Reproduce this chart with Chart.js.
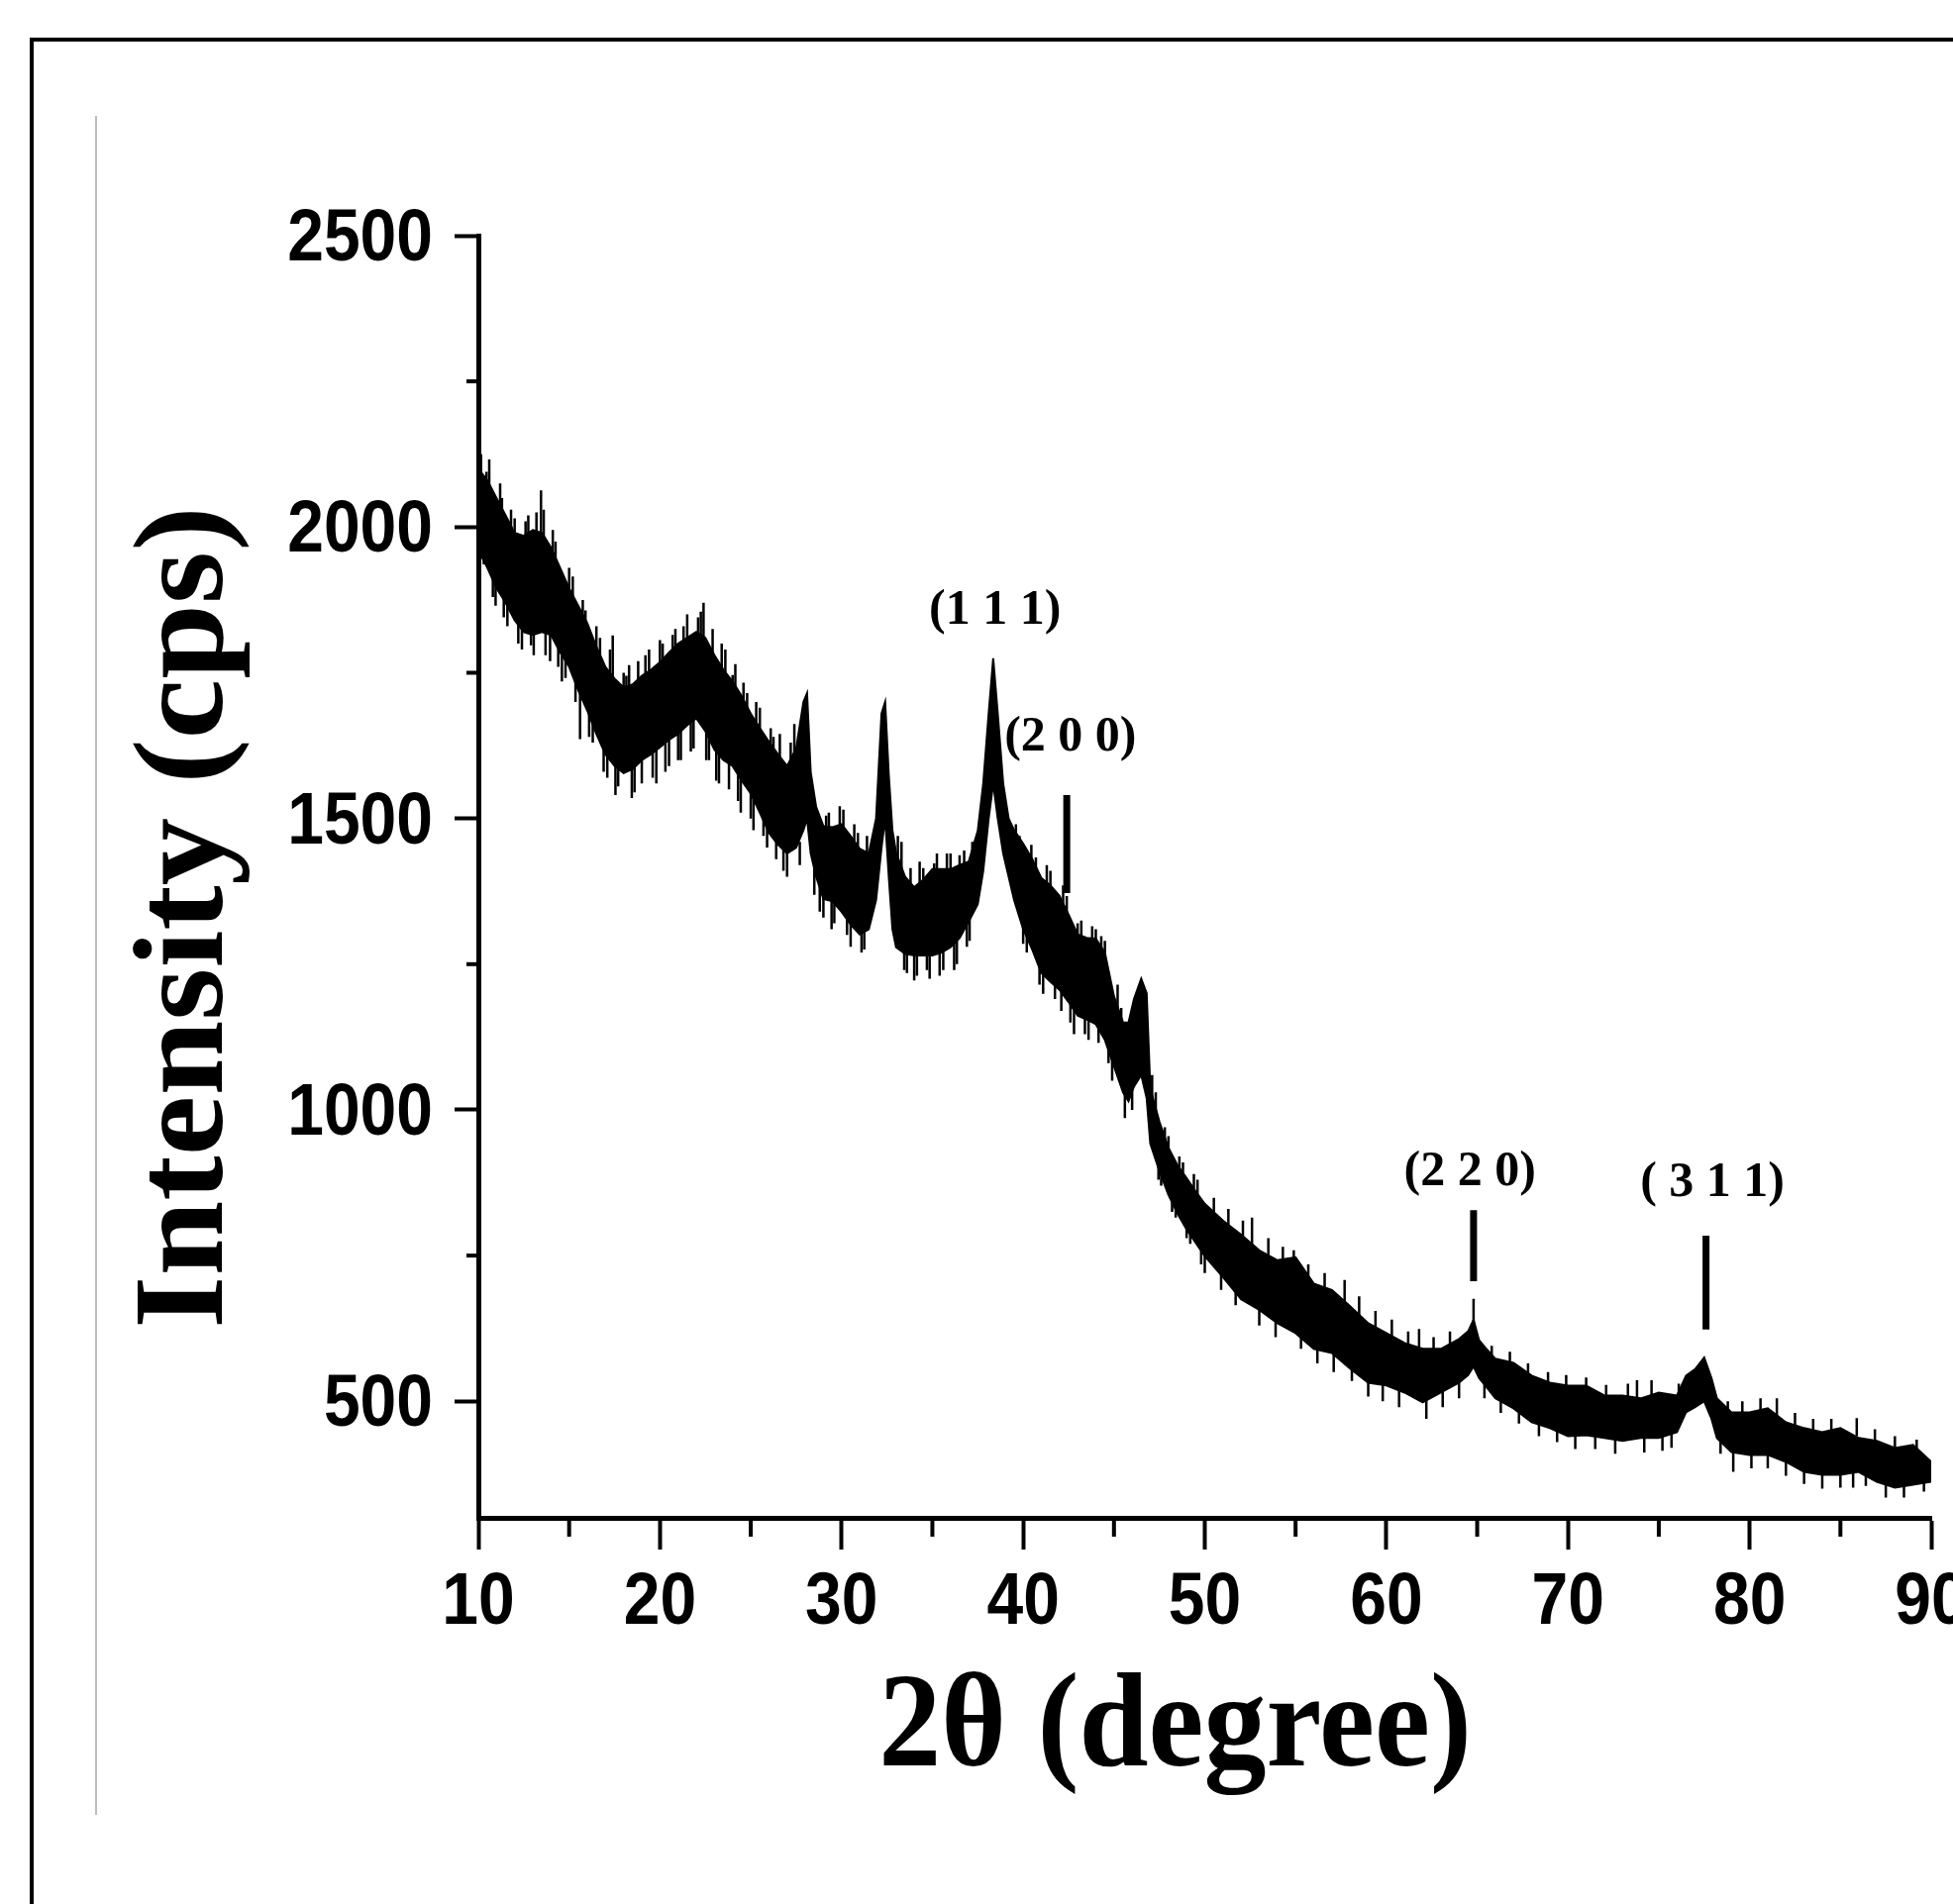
<!DOCTYPE html>
<html lang="en">
<head>
    <meta charset="UTF-8">
    <title>XRD pattern</title>
    <script src="https://cdn.jsdelivr.net/npm/chart.js"></script>
    <style>
        html, body { margin: 0; padding: 0; background: #fff; }
        body { width: 1972px; height: 1923px; position: relative; overflow: hidden; }
        #frame { position: absolute; left: 30px; top: 38px; width: 2100px; height: 2100px; border: 4px solid #000; }
        #rule { position: absolute; left: 96px; top: 117px; width: 2px; height: 1716px; background: #bdbdbd; }
        #xrd { position: absolute; left: 0; top: 0; }
    </style>
</head>
<body>
    <div id="frame"></div>
    <div id="rule"></div>
    <canvas id="xrd" width="1972" height="1923"></canvas>

    <script>
        // 2theta positions (degrees) and the top / bottom edge of the noisy trace (cps)
        const twoTheta = [
            10, 10.5, 11, 11.5, 12, 12.5, 13, 13.5, 14, 14.5, 15, 15.5, 16, 16.5, 17, 17.5,
            18, 18.5, 19, 19.5, 20, 20.5, 21, 21.5, 22, 22.5, 23, 23.5, 24, 24.5, 25, 25.5,
            26, 26.5, 27, 27.5, 27.9, 28.1, 28.3, 28.6, 29, 29.5, 30, 30.5, 31, 31.5,
            31.9, 32.2, 32.4, 32.6, 32.8, 33, 33.5, 34, 34.5, 35, 35.5, 36, 36.5, 37, 37.5,
            37.8, 38.1, 38.35, 38.6, 38.9, 39.2, 39.5, 40, 40.5, 41, 41.5, 42, 42.5, 43, 43.5,
            44, 44.5, 45, 45.5, 45.8, 46.1, 46.5, 46.8, 47, 47.5, 48, 48.5, 49, 49.5, 50,
            51, 52, 53, 54, 55, 56, 57, 58, 59, 60, 61, 62, 63, 64, 64.5, 64.8, 65.1, 65.5,
            66, 67, 68, 69, 70, 71, 72, 73, 74, 75, 76, 76.5, 77, 77.5, 77.9, 78.2,
            79, 80, 81, 82, 83, 84, 85, 86, 87, 88, 89, 90
        ];
        const upperEnv = [
            2100, 2080, 2050, 2020, 1990, 1985, 1995, 1990, 1965, 1930, 1895, 1865, 1835, 1795, 1760, 1740,
            1725, 1730, 1745, 1755, 1768, 1785, 1800, 1810, 1820, 1810, 1780, 1755, 1735, 1710, 1680, 1655,
            1632, 1610, 1590, 1620, 1700, 1715, 1580, 1520, 1487, 1485, 1490, 1470, 1448, 1440,
            1500, 1680, 1700, 1575, 1480, 1442, 1400, 1382, 1395, 1413, 1413, 1413, 1420, 1426, 1479,
            1560, 1680, 1775, 1680, 1560, 1500, 1480, 1457, 1430, 1398, 1385, 1367, 1335, 1301, 1295,
            1294, 1270, 1195, 1150, 1150, 1190, 1225, 1200, 1037, 980, 935, 905, 883, 860, 839,
            810, 786, 759, 742, 747, 702, 691, 663, 634, 617, 600, 590, 590, 607, 620, 640, 605, 590,
            573, 566, 544, 532, 527, 527, 510, 510, 505, 515, 510, 544, 555, 575, 540, 505,
            481, 481, 488, 464, 454, 447, 454, 437, 432, 420, 425, 396
        ];
        const lowerEnv = [
            1960, 1930, 1895, 1870, 1840, 1820, 1815, 1820, 1815, 1785, 1760, 1720, 1685, 1645, 1610, 1590,
            1578, 1585, 1600, 1610, 1622, 1635, 1645, 1660, 1672, 1650, 1618, 1600, 1590, 1565, 1543, 1510,
            1475, 1455, 1440, 1450, 1480, 1500, 1440, 1400, 1362, 1358, 1340, 1318, 1301, 1310,
            1360, 1450, 1500, 1400, 1310, 1279, 1268, 1265, 1265, 1265, 1270, 1279, 1295, 1323, 1353,
            1410, 1500, 1560, 1500, 1440, 1400, 1360, 1310, 1275, 1235, 1220, 1206, 1185, 1162, 1155,
            1147, 1120, 1075, 1030, 1015, 1040, 1060, 1020, 942, 895, 854, 822, 795, 772, 749,
            713, 675, 657, 634, 617, 590, 583, 556, 532, 527, 515, 498, 515, 532, 545, 560, 540, 525,
            505, 488, 464, 454, 440, 442, 437, 432, 437, 437, 447, 481, 490, 500, 470, 437,
            413, 408, 408, 396, 379, 374, 374, 379, 362, 352, 357, 362
        ];

        // single noise spikes sticking out of the band (position, bottom, top)
        const spikeX = [
            10.15, 10.3, 10.6, 10.8, 11.2, 11.4, 11.8, 12.2, 12.6, 12.9,
            13.2, 13.45, 13.7, 14.1, 14.4, 14.8, 15.2, 15.6, 15.9, 16.3,
            16.7, 17.1, 17.4, 17.7, 18.0, 18.3, 18.6, 19.0, 19.2, 19.6,
            20.0, 20.3, 20.7, 21.0, 21.3, 21.7, 22.1, 22.4, 22.7, 23.1,
            23.4, 23.8, 24.0, 24.3, 24.6, 25.0, 25.3, 25.7, 26.1, 26.4,
            26.6, 27.0, 27.4, 27.7, 28.5, 29.0, 29.3, 29.6, 29.9, 30.3,
            30.7, 31.1, 31.4, 33.3, 33.6, 34.0, 34.3, 34.7, 35.1, 35.4,
            35.8, 36.2, 36.5, 36.9, 37.2, 39.8, 40.2, 40.7, 41.1, 41.5,
            42.1, 42.4, 42.8, 43.2, 43.6, 44.0, 44.3, 44.7, 45.2, 45.6,
            46.0, 47.3, 47.6, 48.0, 48.4, 48.8, 49.2, 49.6, 50.0, 50.5,
            50.9, 51.3, 51.7, 52.1, 52.6, 53.0, 53.5, 53.9, 54.3, 54.9,
            55.3, 55.7, 56.2, 56.6, 57.1, 57.7, 58.1, 58.5, 59.0, 59.4,
            59.8, 60.3, 60.7, 61.2, 61.8, 62.2, 62.6, 63.1, 63.5, 64.0,
            64.8, 65.4, 65.8, 66.3, 66.8, 67.3, 67.8, 68.4, 68.9, 69.4,
            69.9, 70.4, 71.0, 71.5, 72.1, 72.6, 73.3, 73.8, 74.2, 74.6,
            75.2, 75.7, 76.1, 78.4, 78.8, 79.1, 79.6, 80.1, 80.6, 81.0,
            81.5, 82.0, 82.5, 83.0, 83.5, 84.0, 84.5, 85.0, 85.7, 85.9,
            86.4, 86.9, 87.5, 88.0, 88.5, 89.2, 89.6
        ];
        const spikeLow = [
            2060, 1936, 2030, 1880, 2010, 1845, 1975, 1800, 1960, 1797,
            1965, 1985, 1780, 1940, 1760, 1741, 1860, 1636, 1800, 1630,
            1760, 1570, 1730, 1555, 1700, 1700, 1545, 1560, 1720, 1570,
            1740, 1580, 1760, 1600, 1780, 1615, 1790, 1780, 1600, 1565,
            1750, 1550, 1700, 1530, 1680, 1500, 1650, 1470, 1600, 1430,
            1580, 1400, 1580, 1420, 1369, 1330, 1460, 1320, 1460, 1300,
            1440, 1270, 1420, 1410, 1235, 1222, 1360, 1240, 1380, 1230,
            1390, 1240, 1390, 1280, 1410, 1420, 1270, 1390, 1199, 1360,
            1170, 1320, 1130, 1280, 1120, 1270, 1260, 1080, 1170, 986,
            1000, 990, 870, 910, 815, 870, 770, 840, 720, 800,
            691, 790, 665, 770, 760, 630, 740, 610, 730, 720,
            590, 700, 565, 680, 550, 660, 535, 640, 508, 620,
            500, 600, 490, 585, 580, 470, 575, 490, 585, 505,
            600, 505, 560, 480, 550, 462, 530, 440, 515, 430,
            510, 418, 500, 418, 495, 410, 490, 490, 412, 490,
            415, 420, 495, 410, 470, 379, 465, 385, 470, 385,
            470, 372, 450, 358, 440, 350, 440, 352, 352, 440,
            355, 420, 335, 410, 335, 400, 345
        ];
        const spikeHigh = [
            2125, 2000, 2116, 1930, 2075, 1900, 2030, 1860, 2010, 1850,
            2025, 2063, 1840, 1995, 1810, 1800, 1915, 1720, 1857, 1680,
            1810, 1620, 1814, 1610, 1750, 1763, 1600, 1610, 1780, 1620,
            1806, 1630, 1815, 1650, 1830, 1665, 1845, 1870, 1660, 1620,
            1800, 1600, 1746, 1580, 1733, 1550, 1700, 1520, 1655, 1480,
            1645, 1450, 1662, 1460, 1420, 1380, 1510, 1370, 1521, 1345,
            1490, 1310, 1470, 1460, 1280, 1280, 1426, 1280, 1423, 1275,
            1440, 1290, 1437, 1330, 1460, 1470, 1310, 1433, 1240, 1410,
            1220, 1367, 1175, 1325, 1160, 1310, 1298, 1130, 1215, 1030,
            1045, 1030, 910, 955, 850, 910, 810, 880, 760, 849,
            740, 830, 700, 810, 815, 670, 780, 650, 765, 759,
            630, 735, 600, 720, 595, 708, 570, 680, 545, 655,
            540, 640, 530, 620, 624, 510, 610, 525, 620, 540,
            676, 545, 595, 515, 585, 495, 565, 475, 550, 465,
            545, 450, 541, 450, 528, 442, 530, 536, 445, 536,
            448, 450, 530, 445, 500, 420, 500, 415, 505, 415,
            505, 405, 480, 390, 470, 383, 470, 385, 390, 471,
            388, 452, 370, 440, 365, 434, 372
        ];

        // denser small noise between 10 and 50 degrees, where the scatter is largest
        const fineX = [
            10.45, 10.95, 11.3, 11.6, 12.0, 12.4, 12.75, 13.05, 13.6, 13.95,
            14.25, 14.6, 15.0, 15.35, 15.75, 16.1, 16.5, 16.9, 17.25, 17.55,
            18.15, 18.45, 18.8, 19.4, 19.8, 20.15, 20.5, 20.85, 21.15, 21.5,
            21.85, 22.25, 22.55, 22.9, 23.25, 23.6, 24.15, 24.45, 24.8, 25.15,
            25.5, 25.9, 26.25, 26.8, 27.2, 28.8, 29.15, 29.45, 30.1, 30.5,
            30.9, 31.25, 33.1, 33.45, 33.8, 34.15, 34.5, 34.85, 35.25, 35.6,
            36.0, 36.35, 36.75, 37.05, 39.6, 40.0, 40.45, 40.9, 41.3, 41.75,
            42.2, 42.6, 43.0, 43.4, 43.8, 44.15, 44.5, 44.9, 45.4, 47.1,
            47.45, 47.8, 48.2, 48.6, 49.0, 49.4, 49.8
        ];
        const fineLow = [
            2040, 1865, 1990, 1830, 1960, 1790, 1965, 1780, 1960, 1770,
            1920, 1735, 1870, 1700, 1820, 1640, 1770, 1580, 1730, 1540,
            1700, 1535, 1710, 1725, 1560, 1745, 1590, 1765, 1600, 1785,
            1620, 1795, 1600, 1765, 1560, 1735, 1710, 1510, 1665, 1480,
            1635, 1450, 1590, 1410, 1580, 1340, 1465, 1310, 1470, 1280,
            1430, 1275, 1420, 1240, 1370, 1230, 1375, 1225, 1390, 1240,
            1395, 1250, 1400, 1290, 1440, 1285, 1410, 1215, 1370, 1190,
            1340, 1150, 1280, 1130, 1275, 1115, 1250, 1050, 1130, 1010,
            880, 930, 825, 880, 780, 850, 735
        ];
        const fineHigh = [
            2095, 1925, 2050, 1885, 2015, 1845, 2020, 1835, 2030, 1830,
            1975, 1795, 1930, 1760, 1875, 1700, 1830, 1635, 1790, 1600,
            1745, 1595, 1770, 1790, 1625, 1800, 1650, 1825, 1660, 1850,
            1680, 1855, 1660, 1825, 1620, 1790, 1765, 1570, 1715, 1540,
            1690, 1500, 1640, 1460, 1630, 1390, 1505, 1365, 1515, 1330,
            1475, 1320, 1470, 1285, 1415, 1275, 1415, 1275, 1440, 1285,
            1440, 1295, 1445, 1335, 1490, 1330, 1455, 1260, 1420, 1230,
            1385, 1195, 1320, 1170, 1315, 1160, 1290, 1100, 1175, 1060,
            925, 970, 870, 920, 815, 890, 775
        ];

        // reflection markers and their Miller indices
        const markerX = [42.4, 64.8, 77.6];
        const markerLow = [1372, 706, 623];
        const markerHigh = [1540, 828, 784];
        const peakLabels = ['(1 1 1)', '(2 0 0)', '(2 2 0)', '( 3 1 1)'];
        const peakLabelX = [38.45, 42.6, 64.6, 77.95];
        const peakLabelY = [1856, 1639, 893, 874];

        const xTicks = [10, 20, 30, 40, 50, 60, 70, 80, 90];
        const xMinor = [15, 25, 35, 45, 55, 65, 75, 85];
        const yTicks = [500, 1000, 1500, 2000, 2500];
        const yMinor = [750, 1250, 1750, 2250];

        const xTitle = '2θ (degree)';
        const yTitle = 'Intensity (cps)';

        function segments(xs, lo, hi) {
            const pts = [];
            xs.forEach((x, i) => {
                pts.push({ x: x, y: lo[i] }, { x: x, y: hi[i] }, { x: x, y: null });
            });
            return pts;
        }

        const sans = "'Liberation Sans', Arial, sans-serif";
        const serif = "'Liberation Serif', 'Times New Roman', serif";

        const extras = {
            id: 'extras',
            afterDraw(chart) {
                const { ctx, chartArea: a, scales: { x, y } } = chart;
                ctx.save();
                ctx.strokeStyle = '#000';
                ctx.fillStyle = '#000';
                ctx.lineWidth = 4;
                yMinor.forEach(v => {
                    const py = y.getPixelForValue(v);
                    ctx.beginPath();
                    ctx.moveTo(a.left - 12, py);
                    ctx.lineTo(a.left, py);
                    ctx.stroke();
                });
                xMinor.forEach(v => {
                    const px = x.getPixelForValue(v);
                    ctx.beginPath();
                    ctx.moveTo(px, a.bottom);
                    ctx.lineTo(px, a.bottom + 19);
                    ctx.stroke();
                });

                // condensed bold tick labels
                ctx.font = 'bold 75px ' + sans;
                ctx.textBaseline = 'alphabetic';
                yTicks.forEach(v => {
                    ctx.save();
                    ctx.translate(a.left - 46, y.getPixelForValue(v) + 25);
                    ctx.scale(0.88, 1);
                    ctx.textAlign = 'right';
                    ctx.fillText(String(v), 0, 0);
                    ctx.restore();
                });
                xTicks.forEach(v => {
                    ctx.save();
                    ctx.translate(x.getPixelForValue(v), a.bottom + 107);
                    ctx.scale(0.88, 1);
                    ctx.textAlign = 'center';
                    ctx.fillText(String(v), 0, 0);
                    ctx.restore();
                });

                ctx.textAlign = 'center';
                ctx.textBaseline = 'middle';
                ctx.font = 'bold 50px ' + serif;
                peakLabels.forEach((t, i) => {
                    ctx.fillText(t, x.getPixelForValue(peakLabelX[i]), y.getPixelForValue(peakLabelY[i]));
                });

                // axis titles (slightly stretched like the scanned figure)
                ctx.textBaseline = 'alphabetic';
                ctx.save();
                ctx.translate((a.left + a.right) / 2 - 30, a.bottom + 250);
                ctx.scale(1, 1.08);
                ctx.font = 'bold 126px ' + serif;
                ctx.fillText(xTitle, 0, 0);
                ctx.restore();

                ctx.save();
                ctx.translate(a.left - 259, (a.top + a.bottom) / 2 + 41);
                ctx.rotate(-Math.PI / 2);
                ctx.scale(1.05, 1);
                ctx.font = 'bold 130px ' + serif;
                ctx.fillText(yTitle, 0, 0);
                ctx.restore();
                ctx.restore();
            }
        };

        const hair = (label, data, width) => ({
            label: label,
            data: data,
            borderColor: '#000',
            borderWidth: width,
            borderCapStyle: 'butt',
            pointRadius: 0,
            spanGaps: false,
            fill: false
        });

        new Chart(document.getElementById('xrd'), {
            type: 'line',
            data: {
                datasets: [
                    {
                        label: 'upper',
                        data: twoTheta.map((t, i) => ({ x: t, y: upperEnv[i] })),
                        borderColor: '#000',
                        backgroundColor: '#000',
                        borderWidth: 2,
                        pointRadius: 0,
                        tension: 0,
                        fill: '+1'
                    },
                    {
                        label: 'lower',
                        data: twoTheta.map((t, i) => ({ x: t, y: lowerEnv[i] })),
                        borderColor: '#000',
                        borderWidth: 2,
                        pointRadius: 0,
                        tension: 0,
                        fill: false
                    },
                    hair('spikes', segments(spikeX, spikeLow, spikeHigh), 2.5),
                    hair('fine', segments(fineX, fineLow, fineHigh), 2.5),
                    hair('markers', segments(markerX, markerLow, markerHigh), 7)
                ]
            },
            options: {
                responsive: false,
                animation: false,
                layout: { padding: { left: 100, top: 238, right: 22, bottom: 100 } },
                plugins: {
                    legend: { display: false },
                    tooltip: { enabled: false }
                },
                scales: {
                    x: {
                        type: 'linear',
                        min: 10,
                        max: 90,
                        afterBuildTicks: s => { s.ticks = xTicks.map(v => ({ value: v })); },
                        afterFit: s => { s.height = 290; s.paddingLeft = 0; s.paddingRight = 0; },
                        border: { display: true, color: '#000', width: 5 },
                        grid: { drawOnChartArea: false, drawTicks: true, tickLength: 32, tickWidth: 4, tickColor: '#000' },
                        ticks: { display: false }
                    },
                    y: {
                        min: 300,
                        max: 2500,
                        afterBuildTicks: s => { s.ticks = yTicks.map(v => ({ value: v })); },
                        afterFit: s => { s.width = 383; s.paddingTop = 0; s.paddingBottom = 0; },
                        border: { display: true, color: '#000', width: 5 },
                        grid: { drawOnChartArea: false, drawTicks: true, tickLength: 24, tickWidth: 4, tickColor: '#000' },
                        ticks: { display: false }
                    }
                }
            },
            plugins: [extras]
        });
    </script>
</body>
</html>
